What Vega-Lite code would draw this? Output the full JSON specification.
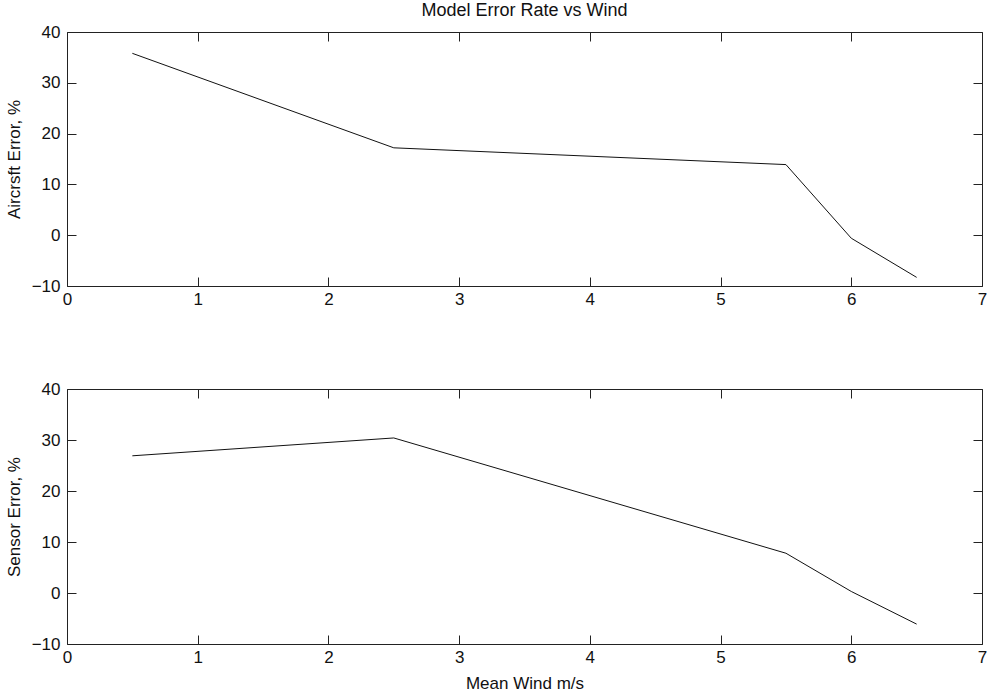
{
  "$schema": "https://vega.github.io/schema/vega-lite/v6.json",
  "background": "white",
  "padding": {"left": 5, "top": 2, "right": 0, "bottom": 2},
  "bounds": "flush",
  "spacing": 103,
  "config": {
    "font": "Liberation Sans",
    "view": {"stroke": null},
    "axis": {
      "grid": false,
      "domainColor": "#222222",
      "domainWidth": 1,
      "tickColor": "#222222",
      "tickSize": -9,
      "tickWidth": 1,
      "labelColor": "#111111",
      "labelFontSize": 17,
      "labelOverlap": false,
      "labelFlush": false,
      "titleColor": "#111111",
      "titleFontSize": 17,
      "titleFontWeight": "normal"
    },
    "axisX": {"labelPadding": 14},
    "axisY": {"labelPadding": 16},
    "line": {"color": "#111111", "strokeWidth": 1}
  },
  "datasets": {
    "air": [
      {"wind": 0.5, "error": 35.8},
      {"wind": 2.5, "error": 17.2},
      {"wind": 5.5, "error": 13.9},
      {"wind": 6.0, "error": -0.6},
      {"wind": 6.5, "error": -8.3}
    ],
    "sensor": [
      {"wind": 0.5, "error": 26.9},
      {"wind": 2.5, "error": 30.4},
      {"wind": 5.5, "error": 7.8},
      {"wind": 6.0, "error": 0.3},
      {"wind": 6.5, "error": -6.1}
    ]
  },
  "vconcat": [
    {
      "width": 915,
      "height": 254,
      "title": {"text": "Model Error Rate vs Wind", "fontSize": 18, "fontWeight": "normal", "color": "#111111", "anchor": "middle", "frame": "group", "offset": 3},
      "layer": [
        {
          "data": {"name": "air"},
          "mark": {"type": "line"},
          "encoding": {
            "x": {"field": "wind", "type": "quantitative", "scale": {"domain": [0, 7], "nice": false, "zero": false},
                  "axis": {"orient": "bottom", "title": null, "values": [0, 1, 2, 3, 4, 5, 6, 7], "format": "d"}},
            "y": {"field": "error", "type": "quantitative", "scale": {"domain": [-10, 40], "nice": false, "zero": false},
                  "axis": {"orient": "left", "title": "Aircrsft Error, %", "values": [-10, 0, 10, 20, 30, 40], "titlePadding": 8}}
          }
        },
        {
          "data": {"name": "air"},
          "mark": {"type": "line", "opacity": 0},
          "encoding": {
            "x": {"field": "wind", "type": "quantitative", "scale": {"domain": [0, 7], "nice": false, "zero": false},
                  "axis": {"orient": "top", "title": null, "labels": false, "values": [0, 1, 2, 3, 4, 5, 6, 7]}},
            "y": {"field": "error", "type": "quantitative", "scale": {"domain": [-10, 40], "nice": false, "zero": false},
                  "axis": {"orient": "right", "title": null, "labels": false, "values": [-10, 0, 10, 20, 30, 40]}}
          }
        }
      ],
      "resolve": {"scale": {"x": "independent", "y": "independent"}}
    },
    {
      "width": 915,
      "height": 255,
      "layer": [
        {
          "data": {"name": "sensor"},
          "mark": {"type": "line"},
          "encoding": {
            "x": {"field": "wind", "type": "quantitative", "scale": {"domain": [0, 7], "nice": false, "zero": false},
                  "axis": {"orient": "bottom", "title": "Mean Wind m/s", "values": [0, 1, 2, 3, 4, 5, 6, 7], "format": "d", "titlePadding": 10}},
            "y": {"field": "error", "type": "quantitative", "scale": {"domain": [-10, 40], "nice": false, "zero": false},
                  "axis": {"orient": "left", "title": "Sensor Error, %", "values": [-10, 0, 10, 20, 30, 40], "titlePadding": 8}}
          }
        },
        {
          "data": {"name": "sensor"},
          "mark": {"type": "line", "opacity": 0},
          "encoding": {
            "x": {"field": "wind", "type": "quantitative", "scale": {"domain": [0, 7], "nice": false, "zero": false},
                  "axis": {"orient": "top", "title": null, "labels": false, "values": [0, 1, 2, 3, 4, 5, 6, 7]}},
            "y": {"field": "error", "type": "quantitative", "scale": {"domain": [-10, 40], "nice": false, "zero": false},
                  "axis": {"orient": "right", "title": null, "labels": false, "values": [-10, 0, 10, 20, 30, 40]}}
          }
        }
      ],
      "resolve": {"scale": {"x": "independent", "y": "independent"}}
    }
  ]
}
